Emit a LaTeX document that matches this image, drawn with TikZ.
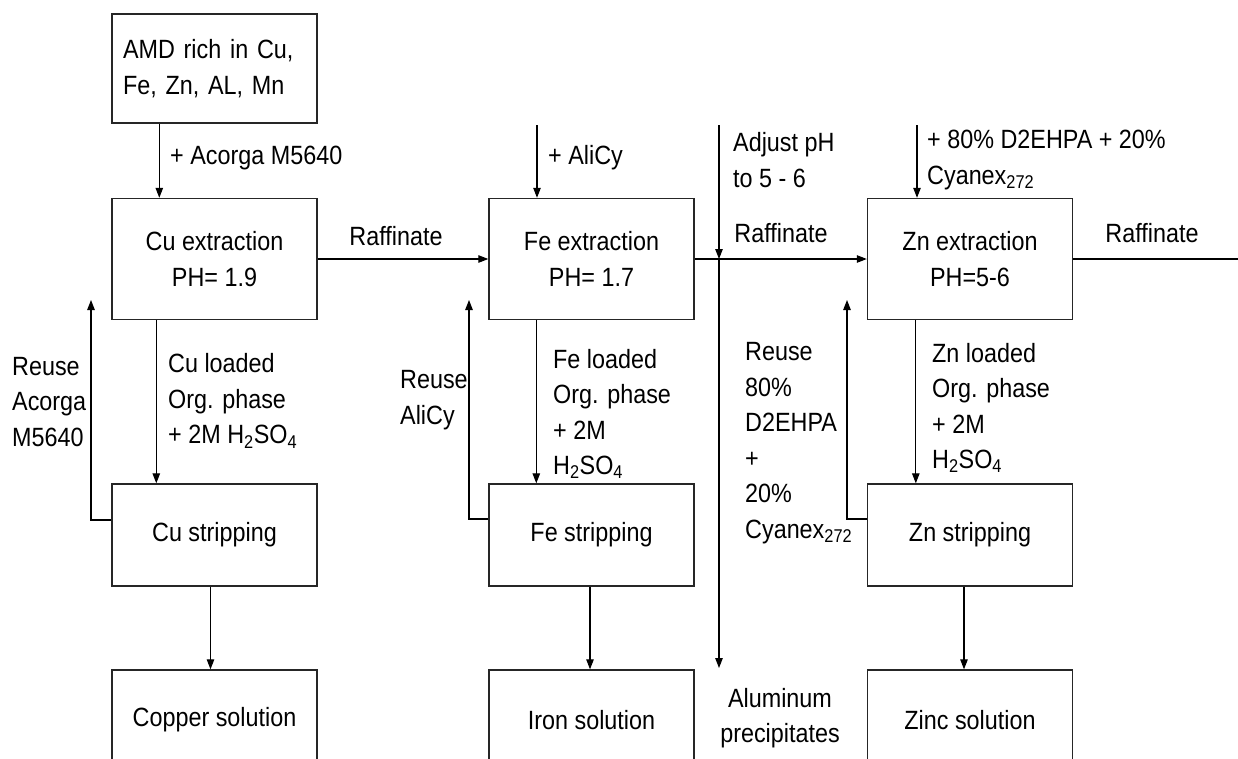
\documentclass[tikz,border=0pt]{standalone}
\usepackage{fontspec}
\setmainfont{Liberation Sans}[FakeStretch=0.885]
\usetikzlibrary{arrows.meta}
\newcommand\diagfont{\fontsize{26.4}{35.5}\selectfont}
\begin{document}
\begin{tikzpicture}[x=1pt,y=-1pt,
  box/.style={draw=black!85, line width=1.4pt, minimum width=205pt, inner sep=0pt, align=center, font=\diagfont},
  arr/.style={line width=1.1pt, -{Triangle[length=10pt,width=7.5pt]}},
  ln/.style={line width=1.1pt},
  lbl/.style={inner sep=0pt, align=left, anchor=west, font=\diagfont},
]
\useasboundingbox (0,0) rectangle (1238,758);
\clip (0,0) rectangle (1238,758);
% boxes
\node[box, minimum height=109pt, text width=183pt, align=left] (amd) at (214.5,68.5) {AMD rich in Cu,\\Fe, Zn, AL, Mn};
\node[box, minimum height=121pt] (cuext) at (214.5,259) {Cu extraction\\PH= 1.9};
\node[box, minimum height=121pt] (feext) at (591.5,259) {Fe extraction\\PH= 1.7};
\node[box, minimum height=121pt] (znext) at (970,259) {Zn extraction\\PH=5-6};
\node[box, minimum height=102pt] (custr) at (214.5,535) {Cu stripping};
\node[box, minimum height=102pt] (festr) at (591.5,535) {Fe stripping};
\node[box, minimum height=102pt] (znstr) at (970,535) {Zn stripping};
\node[box, minimum height=100pt] (copper) at (214.5,720) {Copper solution};
\node[box, minimum height=100pt] (iron) at (591.5,720) {Iron solution};
\node[box, minimum height=100pt] (zinc) at (970,720) {Zinc solution};
% Cu column
\draw[arr] ([xshift=48pt]amd.south west) -- ([xshift=48pt]cuext.north west);
\draw[arr] ([xshift=45pt]cuext.south west) -- ([xshift=45pt]custr.north west);
\draw[arr] ([xshift=-4pt]custr.south) -- ([xshift=-4pt]copper.north);
\coordinate (cureuse) at (91,300);
\draw[arr] ([yshift=15pt]custr.west) -| (cureuse);
\draw[arr] (cuext.east) -- (feext.west);
% Fe column
\coordinate (alicytop) at (537,125);
\draw[arr] (alicytop) -- (alicytop |- feext.north);
\draw[arr] ([xshift=48pt]feext.south west) -- ([xshift=48pt]festr.north west);
\draw[arr] ([xshift=-1.5pt]festr.south) -- ([xshift=-1.5pt]iron.north);
\coordinate (fereuse) at (469,300);
\draw[arr] ([yshift=16pt]festr.west) -| (fereuse);
% Al line
\coordinate (adjtop) at (719,125);
\coordinate (junc) at (adjtop |- feext.east);
\coordinate (alend) at (719,668);
\draw[arr] (adjtop) -- (junc);
\draw[arr] (junc) -- (alend);
\draw[arr] (feext.east) -- (znext.west);
% Zn column
\coordinate (zntop) at (917,125);
\draw[arr] (zntop) -- (zntop |- znext.north);
\draw[arr] ([xshift=49pt]znext.south west) -- ([xshift=49pt]znstr.north west);
\draw[arr] ([xshift=-6pt]znstr.south) -- ([xshift=-6pt]zinc.north);
\coordinate (znreuse) at (847,300);
\draw[arr] ([yshift=16pt]znstr.west) -| (znreuse);
\coordinate (rafend) at (1238,259);
\draw[ln] (znext.east) -- (rafend);
% labels
\node[lbl] (lacorga) at (170,158) {+ Acorga M5640};
\node[lbl] (lalicy) at (548,158) {+ AliCy};
\node[lbl] (ladj) at (733,160) {Adjust pH\\to 5 - 6};
\node[lbl] (lzn) at (927,160) {+ 80\% D2EHPA + 20\%\\Cyanex\textsubscript{272}};
\node[lbl,anchor=center] (raf1) at (396,236) {Raffinate};
\node[lbl,anchor=center] (raf2) at (781,233) {Raffinate};
\node[lbl,anchor=center] (raf3) at (1152,233) {Raffinate};
\node[lbl] (reusecu) at (12,402) {Reuse\\Acorga\\M5640};
\node[lbl] (cuload) at (168,401) {Cu loaded\\Org. phase\\+ 2M H\textsubscript{2}SO\textsubscript{4}};
\node[lbl] (reusefe) at (400,400) {Reuse\\AliCy};
\node[lbl] (feload) at (553,414) {Fe loaded\\Org. phase\\+ 2M\\H\textsubscript{2}SO\textsubscript{4}};
\node[lbl] (reusezn) at (745,443) {Reuse\\80\%\\D2EHPA\\+\\20\%\\Cyanex\textsubscript{272}};
\node[lbl] (znload) at (932,408) {Zn loaded\\Org. phase\\+ 2M\\H\textsubscript{2}SO\textsubscript{4}};
\node[lbl,anchor=center,align=center] (alppt) at (780,718) {Aluminum\\precipitates};
\end{tikzpicture}
\end{document}
